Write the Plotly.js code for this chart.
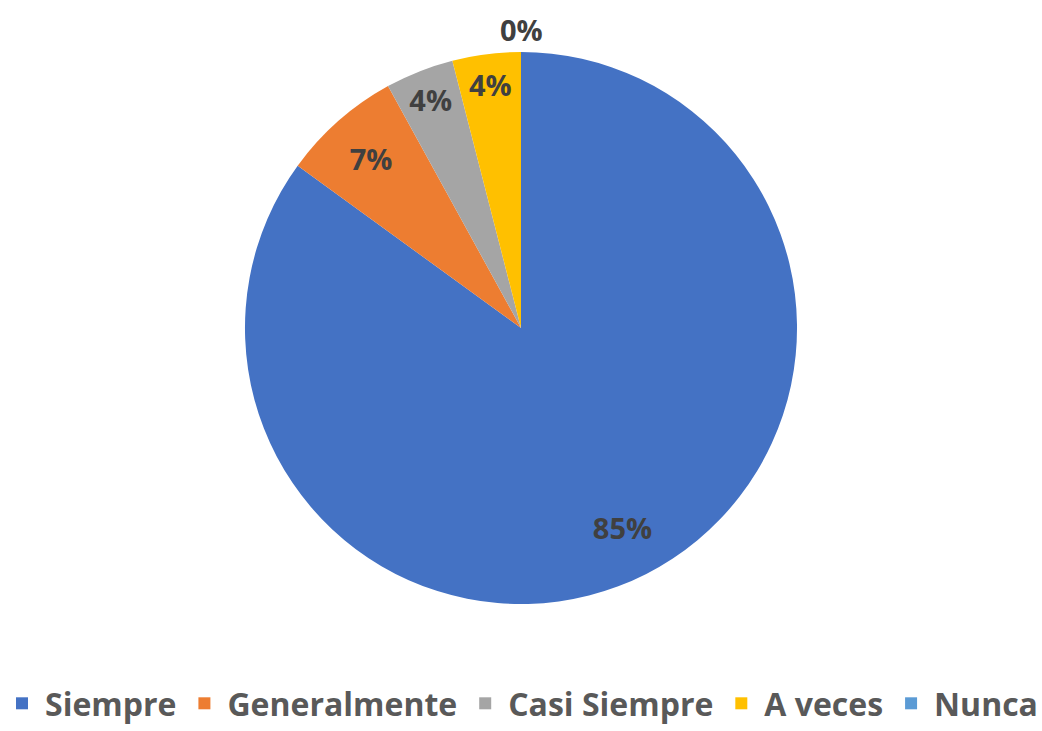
<!DOCTYPE html>
<html>
<head>
<meta charset="utf-8">
<script src="https://cdn.plot.ly/plotly-3.0.1.min.js"></script>
<style>html,body{margin:0;padding:0;background:#fff;}#chart{width:1042px;height:731px;}</style>
</head>
<body>
<div id="chart"></div>
<script>
const categories = ["Siempre", "Generalmente", "Casi Siempre", "A veces", "Nunca"];
const percentages = [85, 7, 4, 4, 0];
const sliceColors = ["#4472C4", "#ED7D31", "#A5A5A5", "#FFC000", "#5B9BD5"];
// the zero slice's label is drawn as an annotation centred above the pie
const labelPositions = ["inside", "inside", "inside", "inside", "none"];

const labelFont = { family: "Open Sans, sans-serif", size: 29, color: "#404040", weight: "bold" };
const pieDomain = { x: [0, 1], y: [0.1737, 0.9289] };

// Main pie: the coloured slices and the legend
const pieTrace = {
  type: "pie",
  labels: categories,
  values: percentages,
  sort: false,
  direction: "clockwise",
  rotation: 0,
  domain: pieDomain,
  marker: { colors: sliceColors, line: { width: 0 } },
  textinfo: "none",
  hoverinfo: "label+percent",
  showlegend: true
};

// Transparent ring overlay carrying the data labels near the rim
const labelTrace = {
  type: "pie",
  labels: categories,
  values: percentages,
  sort: false,
  direction: "clockwise",
  rotation: 0,
  domain: pieDomain,
  hole: 0.62,
  marker: { colors: sliceColors.map(() => "rgba(0,0,0,0)"), line: { width: 0 } },
  texttemplate: "%{value}%",
  textposition: labelPositions,
  insidetextorientation: "horizontal",
  textfont: labelFont,
  insidetextfont: labelFont,
  hoverinfo: "skip",
  showlegend: false
};

const zeroIndex = percentages.indexOf(0);
const annotations = zeroIndex >= 0 ? [{
  text: percentages[zeroIndex] + "%",
  xref: "paper", yref: "paper",
  x: 0.5, y: 0.959,
  xanchor: "center", yanchor: "middle",
  showarrow: false,
  font: labelFont
}] : [];

const layout = {
  width: 1042,
  height: 731,
  paper_bgcolor: "#ffffff",
  plot_bgcolor: "#ffffff",
  margin: { l: 0, r: 0, t: 0, b: 0 },
  showlegend: true,
  annotations: annotations,
  legend: {
    orientation: "h",
    x: 0.5, xanchor: "center",
    y: 0, yanchor: "bottom",
    font: { family: "Open Sans, sans-serif", size: 32, color: "#595959", weight: "bold" },
    itemwidth: 36
  }
};

Plotly.newPlot("chart", [pieTrace, labelTrace], layout, { displayModeBar: false, staticPlot: true });
</script>
</body>
</html>
